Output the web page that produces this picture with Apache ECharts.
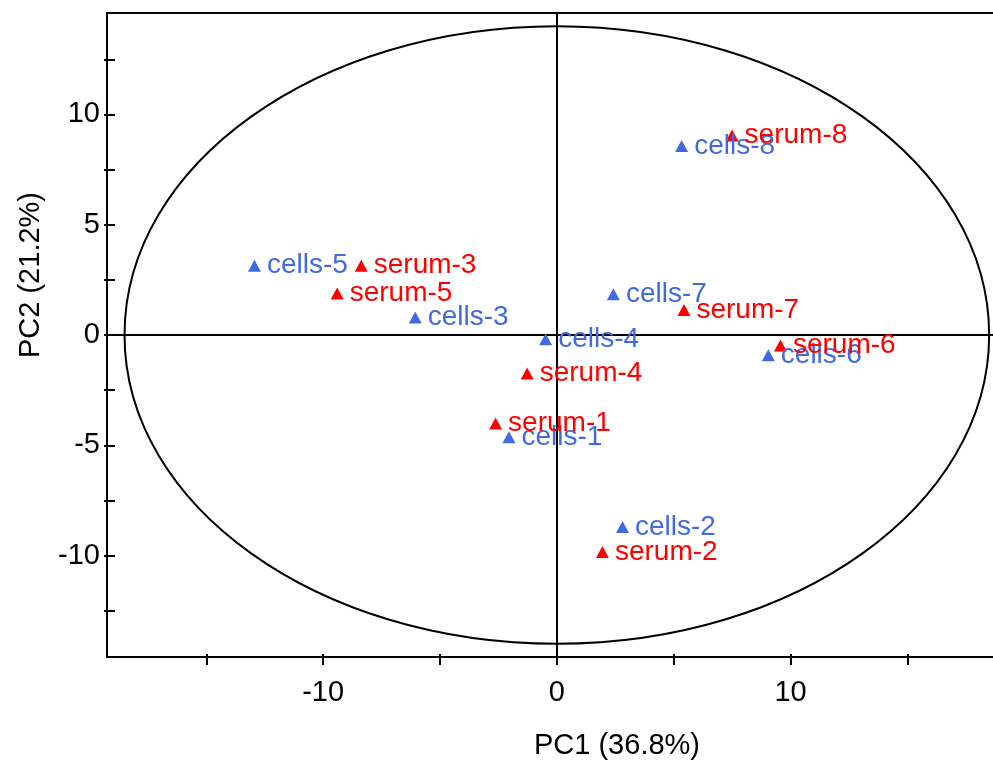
<!DOCTYPE html>
<html>
<head>
<meta charset="utf-8">
<script src="https://cdn.jsdelivr.net/npm/echarts@6/dist/echarts.min.js"></script>
<style>
html, body { margin: 0; padding: 0; background: #fff; }
#main { width: 993px; height: 762px; }
</style>
</head>
<body>
<div id="main"></div>
<script>
// PCA scores
var cellNames = ['cells-1', 'cells-2', 'cells-3', 'cells-4', 'cells-5', 'cells-6', 'cells-7', 'cells-8'];
var cellPC1 = [-2.05, 2.81, -6.06, -0.48, -12.94, 9.05, 2.42, 5.34];
var cellPC2 = [-4.64, -8.70, 0.79, -0.19, 3.14, -0.92, 1.85, 8.57];

var serumNames = ['serum-1', 'serum-2', 'serum-3', 'serum-4', 'serum-5', 'serum-6', 'serum-7', 'serum-8'];
var serumPC1 = [-2.62, 1.95, -8.37, -1.27, -9.40, 9.57, 5.44, 7.50];
var serumPC2 = [-4.01, -9.84, 3.14, -1.75, 1.88, -0.48, 1.13, 9.04];

// confidence ellipse: centre and half axes, in PC units
var ellipseData = [[0, 0, 18.5, 14.0]];

// axes
var xRange = [-19.25, 18.75];
var yRange = [-14.6, 14.6];
var xTicks = [-15, -10, -5, 0, 5, 10, 15];
var xTickLabels = [-10, 0, 10];
var yTicks = [-12.5, -10, -7.5, -5, -2.5, 0, 2.5, 5, 7.5, 10, 12.5];
var yTickLabels = [-10, -5, 0, 5, 10];

var font = "'Liberation Sans', Arial, sans-serif";
var blue = '#4169e1';
var red = '#ff0000';

function toPoints(xs, ys, names) {
  return xs.map(function (x, i) {
    return [x, ys[i], names[i]];
  });
}

function scatterSeries(name, data, color) {
  return {
    name: name,
    type: 'scatter',
    data: data,
    symbol: 'triangle',
    symbolSize: [13, 12],
    itemStyle: { color: color, opacity: 1 },
    label: {
      show: true,
      position: 'right',
      distance: 6,
      formatter: function (p) { return p.data[2]; },
      color: color,
      opacity: 1,
      fontSize: 28,
      fontFamily: font
    },
    emphasis: { disabled: true },
    z: 5
  };
}

function axisBase(range, ticks) {
  return {
    type: 'value',
    min: range[0],
    max: range[1],
    splitLine: { show: false }
  };
}

var myChart = echarts.init(document.getElementById('main'), null, { renderer: 'canvas' });

var mainX = Object.assign(axisBase(xRange), {
  position: 'bottom',
  name: 'PC1 (36.8%)',
  nameLocation: 'middle',
  nameGap: 74,
  nameTextStyle: { color: '#000', fontSize: 29, fontFamily: font, padding: [0, 0, 0, 132] },
  axisLine: { show: true, onZero: false, lineStyle: { color: '#000', width: 2 } },
  axisTick: { show: true, inside: false, length: 8, customValues: xTicks, lineStyle: { color: '#000', width: 2 } },
  axisLabel: { margin: 21, color: '#000', fontSize: 29, fontFamily: font, customValues: xTickLabels }
});
var innerX = Object.assign(axisBase(xRange), {
  position: 'bottom',
  axisLine: { show: false, onZero: false },
  axisTick: { show: true, inside: true, length: 3, customValues: xTicks, lineStyle: { color: '#000', width: 2 } },
  axisLabel: { show: false }
});
var mainY = Object.assign(axisBase(yRange), {
  position: 'left',
  name: 'PC2 (21.2%)',
  nameLocation: 'middle',
  nameGap: 62,
  nameTextStyle: { color: '#000', fontSize: 29, fontFamily: font, padding: [0, 0, 0, 120] },
  axisLine: { show: true, onZero: false, lineStyle: { color: '#000', width: 2 } },
  axisTick: { show: true, inside: true, length: 8, customValues: yTicks, lineStyle: { color: '#000', width: 2 } },
  axisLabel: { margin: 7, color: '#000', fontSize: 29, fontFamily: font, customValues: yTickLabels }
});
var outerY = Object.assign(axisBase(yRange), {
  position: 'left',
  axisLine: { show: false, onZero: false },
  axisTick: { show: true, inside: false, length: 3, customValues: yTicks, lineStyle: { color: '#000', width: 2 } },
  axisLabel: { show: false }
});

var option = {
  animation: false,
  backgroundColor: '#fff',
  grid: {
    left: 107,
    top: 13,
    right: -2,
    bottom: 105,
    containLabel: false,
    outerBoundsMode: 'none',
    show: true,
    borderColor: '#000',
    borderWidth: 2,
    backgroundColor: 'transparent'
  },
  xAxis: [mainX, innerX],
  yAxis: [mainY, outerY],
  series: [
    {
      name: 'ellipse',
      type: 'custom',
      data: ellipseData,
      encode: { x: 0, y: 1 },
      silent: true,
      z: 2,
      renderItem: function (params, api) {
        var c = api.coord([api.value(0), api.value(1)]);
        var s = api.size([api.value(2), api.value(3)]);
        return {
          type: 'ellipse',
          shape: { cx: c[0], cy: c[1], rx: s[0], ry: s[1] },
          style: { fill: null, stroke: '#000', lineWidth: 2 }
        };
      },
      markLine: {
        silent: true,
        symbol: 'none',
        label: { show: false },
        lineStyle: { color: '#000', width: 2, type: 'solid' },
        data: [{ xAxis: 0 }, { yAxis: 0 }]
      }
    },
    scatterSeries('cells', toPoints(cellPC1, cellPC2, cellNames), blue),
    scatterSeries('serum', toPoints(serumPC1, serumPC2, serumNames), red)
  ]
};
myChart.setOption(option);
</script>
</body>
</html>
